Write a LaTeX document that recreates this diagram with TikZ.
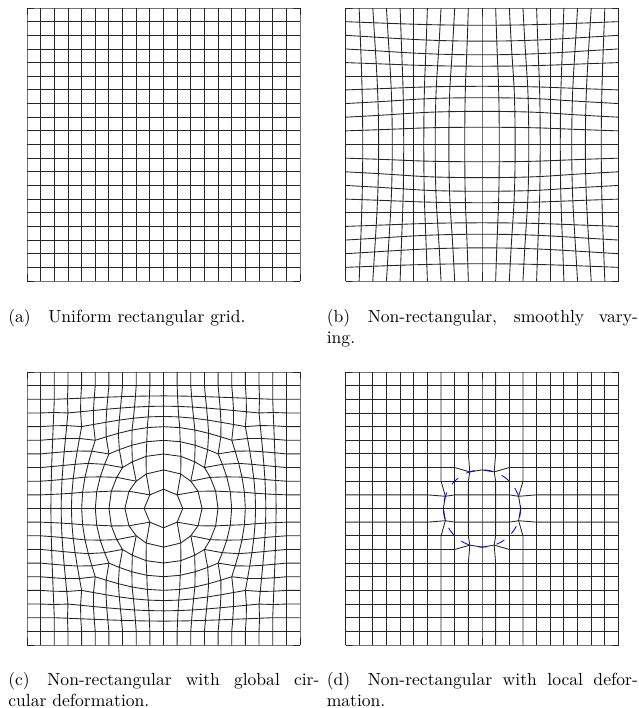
\documentclass[tikz,border=0pt]{standalone}
\begin{document}
\begin{tikzpicture}[x=0.57pt,y=-0.57pt,
  gl/.style={line width=0.5pt,black!85},
  capt/.style={anchor=north west,inner sep=0pt,text width=177.3pt,align=justify,font=\normalsize},
  circ/.style={blue,line width=0.5pt,dash pattern=on 5pt off 5.5pt},
  declare function={
    kk(\a,\b)=max(abs(\a),abs(\b));
    ww(\k)=min(1,2.4/max(\k,0.5))*max(0,min(1,(9-\k)/4));
    cfx(\a,\b)=\a+(\a/max(veclen(\a,\b),0.001)*1.41421*kk(\a,\b)-\a)*ww(kk(\a,\b));
    cfy(\a,\b)=\b+(\b/max(veclen(\a,\b),0.001)*1.41421*kk(\a,\b)-\b)*ww(kk(\a,\b));
    dsc(\a,\b)=(abs(kk(\a,\b)-3)<0.5)?((min(abs(\a),abs(\b))<1.5)?(2.8284/max(veclen(\a,\b),0.001)):1):1;
    gax(\a,\b)=\a; gay(\a,\b)=\b;
    gbx(\a,\b)=\a+0.45*sin(36*\a)*sin(9*\b);
    gby(\a,\b)=\b+0.45*sin(36*\b)*sin(9*\a);
    gcx(\a,\b)=10+cfx(\a-10,\b-10);
    gcy(\a,\b)=10+cfy(\a-10,\b-10);
    gdx(\a,\b)=10+(\a-10)*dsc(\a-10,\b-10);
    gdy(\a,\b)=10+(\b-10)*dsc(\a-10,\b-10);
  }]
\useasboundingbox (0,0) rectangle (639,708);
\newcommand\mygrid[4]{%
  \foreach \j in {0,...,20}{
    \draw[gl] ({#3+13.65*#1(0,\j)},{#4+13.65*#2(0,\j)})
      \foreach \i in {1,...,20}{ -- ({#3+13.65*#1(\i,\j)},{#4+13.65*#2(\i,\j)}) };
    \draw[gl] ({#3+13.65*#1(\j,0)},{#4+13.65*#2(\j,0)})
      \foreach \i in {1,...,20}{ -- ({#3+13.65*#1(\j,\i)},{#4+13.65*#2(\j,\i)}) };
  }}
% (a) uniform
\mygrid{gax}{gay}{27}{8}
% (b) smoothly varying
\mygrid{gbx}{gby}{345.5}{8}
% (c) global circular
\mygrid{gcx}{gcy}{27}{372}
% (d) local
\mygrid{gdx}{gdy}{345.5}{372}
\draw[circ] (482,508.5) circle[radius=38.6];
\node[capt] (capa) at (8,309) {(a)\quad Uniform rectangular grid.};
\node[capt] (capb) at (326.5,309) {(b)\quad Non-rectangular, smoothly vary-\linebreak ing.};
\node[capt] (capc) at (8,672) {(c)\quad Non-rectangular with global cir-\linebreak cular deformation.};
\node[capt] (capd) at (326.5,672) {(d)\quad Non-rectangular with local defor-\linebreak mation.};
\end{tikzpicture}
\end{document}
